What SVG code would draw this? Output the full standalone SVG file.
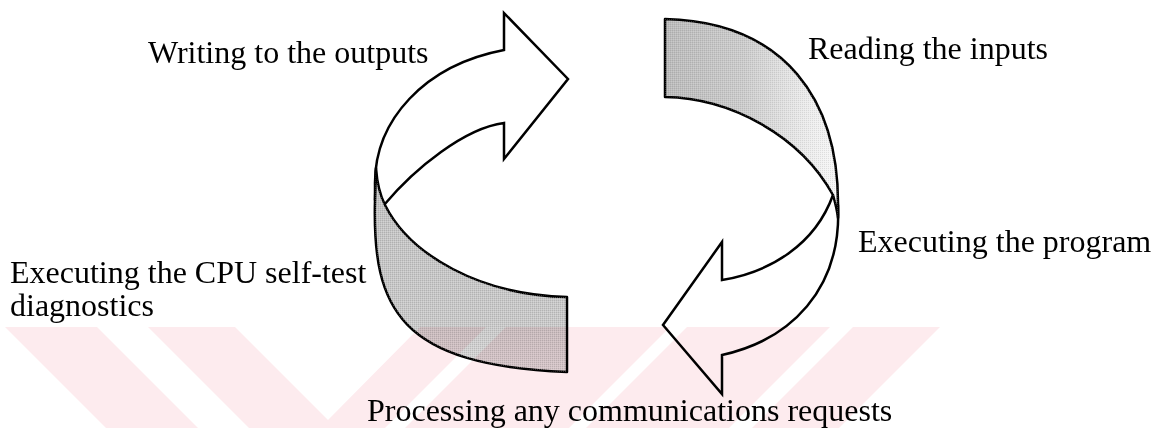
<svg xmlns="http://www.w3.org/2000/svg" width="1163" height="428" viewBox="0 0 1163 428">
  <style>
    .label { font-family: "Liberation Serif", "Times New Roman", serif; font-size: 32px; fill: #000; }
    .edge { fill: none; stroke: #000; stroke-width: 2.5; stroke-linejoin: miter; stroke-linecap: round; }
    .face { fill: #fff; stroke: none; }
    .back { stroke: #000; stroke-width: 2.5; stroke-linejoin: round; }
    .grain { fill: url(#dither); stroke: none; }
    .mark { fill: #fdebee; mix-blend-mode: multiply; }
  </style>
  <defs>
    <!-- shading of the inner (back) side of the ribbon -->
    <linearGradient id="shadeRight" gradientUnits="userSpaceOnUse" x1="665" y1="0" x2="838" y2="0">
      <stop offset="0" stop-color="#bababa"/>
      <stop offset="0.45" stop-color="#cbcbcb"/>
      <stop offset="0.8" stop-color="#eaeaea"/>
      <stop offset="1" stop-color="#f8f8f8"/>
    </linearGradient>
    <linearGradient id="shadeLeft" gradientUnits="userSpaceOnUse" x1="0" y1="200" x2="0" y2="372">
      <stop offset="0" stop-color="#c3c3c3"/>
      <stop offset="0.7" stop-color="#c8c8c8"/>
      <stop offset="1" stop-color="#d6d6d6"/>
    </linearGradient>
    <!-- fine halftone dots laid over the shaded faces -->
    <pattern id="dither" width="2" height="2" patternUnits="userSpaceOnUse">
      <rect x="0" y="0" width="1" height="1" fill="#000" opacity="0.10"/>
      <rect x="1" y="1" width="1" height="1" fill="#fff" opacity="0.25"/>
    </pattern>
  </defs>

  <rect width="1163" height="428" fill="#fff"/>

  <g id="connectors">
    <!-- upper arrow: outer face of the ribbon turning right -->
    <g id="arrow-top">
      <path class="face" d="M504,50 L504,13 L568,79 L504,159 L504,123 C465,128 415,168 384,205 L375,200 L375,185 C374,120 425,65 504,50 Z"/>
      <path class="edge" d="M384,205 C415,168 465,128 504,123 L504,159 L568,79 L504,13 L504,50 C425,65 374,120 375,185 L375,200"/>
    </g>
    <!-- lower arrow: outer face of the ribbon turning left -->
    <g id="arrow-bottom">
      <path class="face" d="M722,280 L722,242 L663,325 L722,394 L722,355 C790,340 842,290 838,210 L833,195 C815,245 770,272 722,280 Z"/>
      <path class="edge" d="M833,195 C815,245 770,272 722,280 L722,242 L663,325 L722,394 L722,355 C790,340 842,290 838,205"/>
    </g>
    <!-- left back face of the ribbon -->
    <g id="band-left">
      <path class="back" fill="url(#shadeLeft)" d="M567,297 C480,295 410,255 385,205 C380,195 377,182 376,168 L375,200 C372,310 400,365 567,372 Z"/>
      <path class="grain" d="M567,297 C480,295 410,255 385,205 C380,195 377,182 376,168 L375,200 C372,310 400,365 567,372 Z"/>
    </g>
    <!-- right back face of the ribbon -->
    <g id="band-right">
      <path class="back" fill="url(#shadeRight)" d="M665,19 L665,97 C730,98 800,135 833,195 C835,202 837,210 838,218 L838,210 C840,100 785,22 665,19 Z"/>
      <path class="grain" d="M665,19 L665,97 C730,98 800,135 833,195 C835,202 837,210 838,218 L838,210 C840,100 785,22 665,19 Z" opacity="0.8"/>
    </g>
  </g>

  <g id="step-write"><text class="label" x="148" y="63">Writing to the outputs</text></g>
  <g id="step-read"><text class="label" x="808" y="59">Reading the inputs</text></g>
  <g id="step-execute"><text class="label" x="858" y="252">Executing the program</text></g>
  <g id="step-selftest"><text class="label" x="10" y="283">Executing the CPU self-test</text><text class="label" x="10" y="316">diagnostics</text></g>
  <g id="step-comms"><text class="label" x="367" y="421">Processing any communications requests</text></g>

  <!-- pale diagonal background stripes -->
  <g id="backdrop">
    <polygon class="mark" points="5,327 97,327 198,428 106,428"/>
    <polygon class="mark" points="148,327 235,327 328,420 420,327 486,327 385,428 249,428"/>
    <polygon class="mark" points="506,327 670,327 569,428 405,428"/>
    <polygon class="mark" points="687,327 830,327 729,428 586,428"/>
    <polygon class="mark" points="853,327 940,327 839,428 752,428"/>
  </g>
</svg>
